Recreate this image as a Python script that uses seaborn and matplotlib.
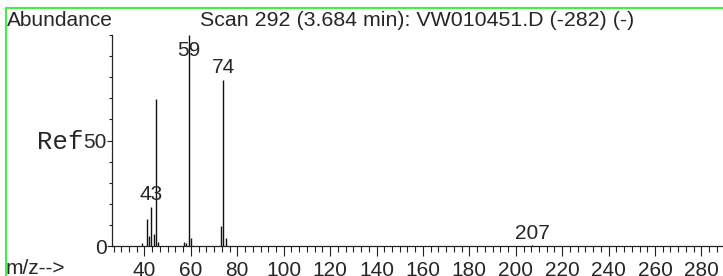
import matplotlib
matplotlib.use('Agg')
import matplotlib.pyplot as plt
import matplotlib.ticker as mticker
import seaborn as sns

# Datos del espectro (m/z y abundancia relativa)
mz = [39, 41, 42, 43, 44, 45, 46, 57, 58, 59, 60, 73, 74, 75, 207]
abundance = [1.3, 12.6, 4.6, 18.6, 5.8, 69.7, 1.7, 1.7, 1.3, 100, 3.9, 9.5, 78.7, 4.0, 0.3]
peak_labels = [43, 59, 74, 207]
x_ticks = [40, 60, 80, 100, 120, 140, 160, 180, 200, 220, 240, 260, 280]
y_ticks = [0, 50]

title = "Scan 292 (3.684 min): VW010451.D (-282) (-)"

sns.set_style("ticks")
plt.rcParams['font.family'] = ['Liberation Sans', 'DejaVu Sans']
fs = 15

W, H = 723, 276
fig = plt.figure(figsize=(W / 100, H / 100), dpi=100)
ax = fig.add_axes([112 / W, 30 / H, 611 / W, 211 / H])

ax.vlines(mz, 0, abundance, color='#111111', lw=1.0)

# etiquetas de picos
for m in peak_labels:
    h = abundance[mz.index(m)]
    ax.text(m, min(h, 87) + 1.3, str(m), ha='center', va='bottom', fontsize=fs)

ax.set_xlim(26, 289.3)
ax.set_ylim(0, 100)
ax.set_xticks(x_ticks)
ax.xaxis.set_minor_locator(mticker.MultipleLocator(20 / 6))
ax.set_yticks(y_ticks)
ax.yaxis.set_minor_locator(mticker.MultipleLocator(10))
ax.tick_params(axis='x', which='major', length=7.5, width=0.8, pad=3, labelsize=fs, color='#222222')
ax.tick_params(axis='x', which='minor', length=4, width=0.8, color='#222222')
ax.tick_params(axis='y', which='major', length=3.5, width=0.8, pad=0.5, labelsize=fs, color='#222222')
ax.tick_params(axis='y', which='minor', length=2, width=0.8, color='#222222')
sns.despine(ax=ax)
for s in ['left', 'bottom']:
    ax.spines[s].set_color('#222222')
    ax.spines[s].set_linewidth(0.9)

# textos de la figura
fig.text(7 / W, 1 - 20 / H, "Abundance", ha='left', va='center', fontsize=fs)
fig.text(200 / W, 1 - 20 / H, title, ha='left', va='center', fontsize=15.4)
fig.text(6 / W, 1 - 269 / H, "m/z-->", ha='left', va='center', fontsize=fs)
fig.text(37 / W, 1 - 142 / H, "Ref", ha='left', va='center', fontsize=18.5, family='Liberation Mono')

# marco verde
fig.add_artist(plt.Line2D([6.5 / W, 6.5 / W], [0, 1 - 7.5 / H], color='#44ee44', lw=1.5))
fig.add_artist(plt.Line2D([6.5 / W, 1], [1 - 7.5 / H, 1 - 7.5 / H], color='#44ee44', lw=1.5))

fig.savefig('out.png', dpi=100)
